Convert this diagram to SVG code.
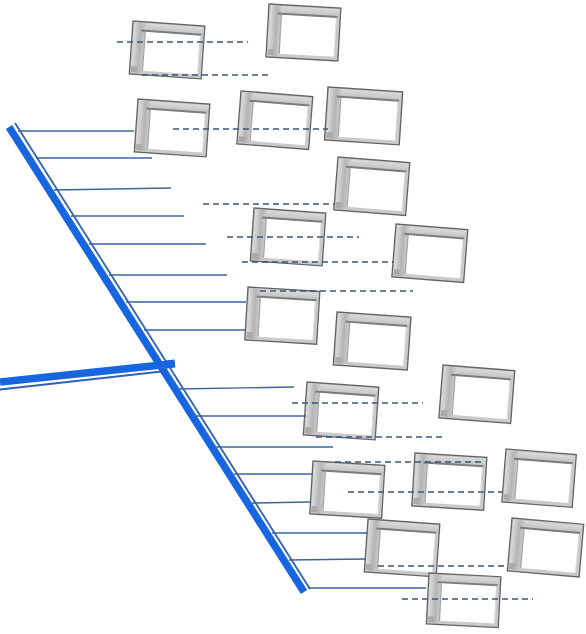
<svg xmlns="http://www.w3.org/2000/svg" width="586" height="634" viewBox="0 0 586 634">
<style>
.rib{stroke:#3f649c;stroke-width:1.4;fill:none}
.dash{stroke:#3a557c;stroke-width:1.5;stroke-dasharray:6 4;fill:none}
.spine{stroke:#1766e0;stroke-width:7.5;fill:none;stroke-linecap:butt}
.spine2{stroke:#2f62b8;stroke-width:1.8;fill:none}
</style>
<defs>
<linearGradient id="lg" x1="0" y1="0" x2="1" y2="0">
<stop offset="0" stop-color="#dcdcdc"/>
<stop offset="0.55" stop-color="#b4b4b4"/>
<stop offset="1" stop-color="#cdcdcd"/>
</linearGradient>
<linearGradient id="tg" x1="0" y1="0" x2="0" y2="1">
<stop offset="0" stop-color="#dadada"/>
<stop offset="1" stop-color="#c0c0c0"/>
</linearGradient>
<g id="box">
<rect x="0" y="0" width="72" height="53" fill="#cacaca" stroke="#646464" stroke-width="1.3"/>
<rect x="1.5" y="1.5" width="69" height="8" fill="url(#tg)"/>
<rect x="1.5" y="1.5" width="12" height="50" fill="url(#lg)"/>
<rect x="13" y="9.5" width="55" height="39.5" fill="#ffffff"/>
<line x1="9" y1="9" x2="69" y2="9" stroke="#7c7c7c" stroke-width="2"/>
<line x1="13" y1="10" x2="13" y2="49" stroke="#a4a4a4" stroke-width="1.2"/>
<line x1="68" y1="10" x2="68" y2="49" stroke="#dcdcdc" stroke-width="1"/>
<rect x="1.5" y="45" width="6" height="6" fill="#aaaaaa"/>
</g>
</defs>
<g id="nodes">
<g id="b1"><use href="#box" transform="translate(133,21) rotate(4)"/></g>
<g id="b2"><use href="#box" transform="translate(269,4) rotate(3.3)"/></g>
<g id="b3"><use href="#box" transform="translate(138,99) rotate(4)"/></g>
<g id="b4"><use href="#box" transform="translate(241,91) rotate(4.5)"/></g>
<g id="b5"><use href="#box" transform="translate(328,87) rotate(3.8) scale(1.04,1)"/></g>
<g id="b6"><use href="#box" transform="translate(338,157) rotate(4.5)"/></g>
<g id="b7"><use href="#box" transform="translate(254,208) rotate(4)"/></g>
<g id="b8"><use href="#box" transform="translate(396,224) rotate(4.5)"/></g>
<g id="b9"><use href="#box" transform="translate(248,287) rotate(3.5)"/></g>
<g id="b10"><use href="#box" transform="translate(337,312) rotate(4) scale(1.03,1)"/></g>
<g id="b11"><use href="#box" transform="translate(307,382) rotate(4)"/></g>
<g id="b12"><use href="#box" transform="translate(443,365) rotate(4.5)"/></g>
<g id="b13"><use href="#box" transform="translate(313,461) rotate(3.5)"/></g>
<g id="b14"><use href="#box" transform="translate(415,453) rotate(3.5)"/></g>
<g id="b15"><use href="#box" transform="translate(506,449) rotate(4.5) scale(0.98,1)"/></g>
<g id="b16"><use href="#box" transform="translate(368,519) rotate(4)"/></g>
<g id="b17"><use href="#box" transform="translate(512,518) rotate(5)"/></g>
<g id="b18"><use href="#box" transform="translate(429,573) rotate(3) scale(1,0.96)"/></g>
</g>
<g id="connectors">
<line class="spine" x1="9" y1="127" x2="304" y2="592"/>
<line class="spine2" x1="15" y1="123" x2="310" y2="589"/>
<line class="spine" x1="0" y1="382" x2="171" y2="364"/>
<rect x="166" y="360" width="9" height="8" fill="#1766e0" transform="rotate(-6 170 364)"/>
<line class="spine2" x1="0" y1="389.5" x2="166" y2="371"/>
<line class="rib" x1="18" y1="131" x2="134" y2="131"/>
<line class="rib" x1="36" y1="158" x2="152" y2="158"/>
<line class="rib" x1="54" y1="190" x2="171" y2="188" stroke="#4a7fd6"/>
<line class="rib" x1="71" y1="216" x2="184" y2="216"/>
<line class="rib" x1="89" y1="244" x2="206" y2="244"/>
<line class="rib" x1="109" y1="275" x2="227" y2="275"/>
<line class="rib" x1="126" y1="302" x2="246" y2="302"/>
<line class="rib" x1="144" y1="330" x2="246" y2="330"/>
<line class="rib" x1="178" y1="389" x2="294" y2="387" stroke="#4a7fd6"/>
<line class="rib" x1="196" y1="416" x2="306" y2="416"/>
<line class="rib" x1="216" y1="447" x2="333" y2="447"/>
<line class="rib" x1="234" y1="474" x2="313" y2="474"/>
<line class="rib" x1="252" y1="503" x2="311" y2="502"/>
<line class="rib" x1="272" y1="533" x2="368" y2="533"/>
<line class="rib" x1="289" y1="560" x2="366" y2="559"/>
<line class="rib" x1="308" y1="588" x2="426" y2="588"/>
<line class="dash" x1="117" y1="42" x2="248" y2="42"/>
<line class="dash" x1="142" y1="75" x2="272" y2="75"/>
<line class="dash" x1="173" y1="129" x2="328" y2="129"/>
<line class="dash" x1="203" y1="204" x2="335" y2="204"/>
<line class="dash" x1="227" y1="237" x2="359" y2="237"/>
<line class="dash" x1="242" y1="262" x2="394" y2="262"/>
<line class="dash" x1="260" y1="291" x2="413" y2="291"/>
<line class="dash" x1="292" y1="403" x2="423" y2="403"/>
<line class="dash" x1="316" y1="437" x2="446" y2="437"/>
<line class="dash" x1="335" y1="462" x2="483" y2="462"/>
<line class="dash" x1="348" y1="492" x2="502" y2="492"/>
<line class="dash" x1="378" y1="566" x2="508" y2="566"/>
<line class="dash" x1="402" y1="599" x2="533" y2="599"/>
</g>
</svg>
